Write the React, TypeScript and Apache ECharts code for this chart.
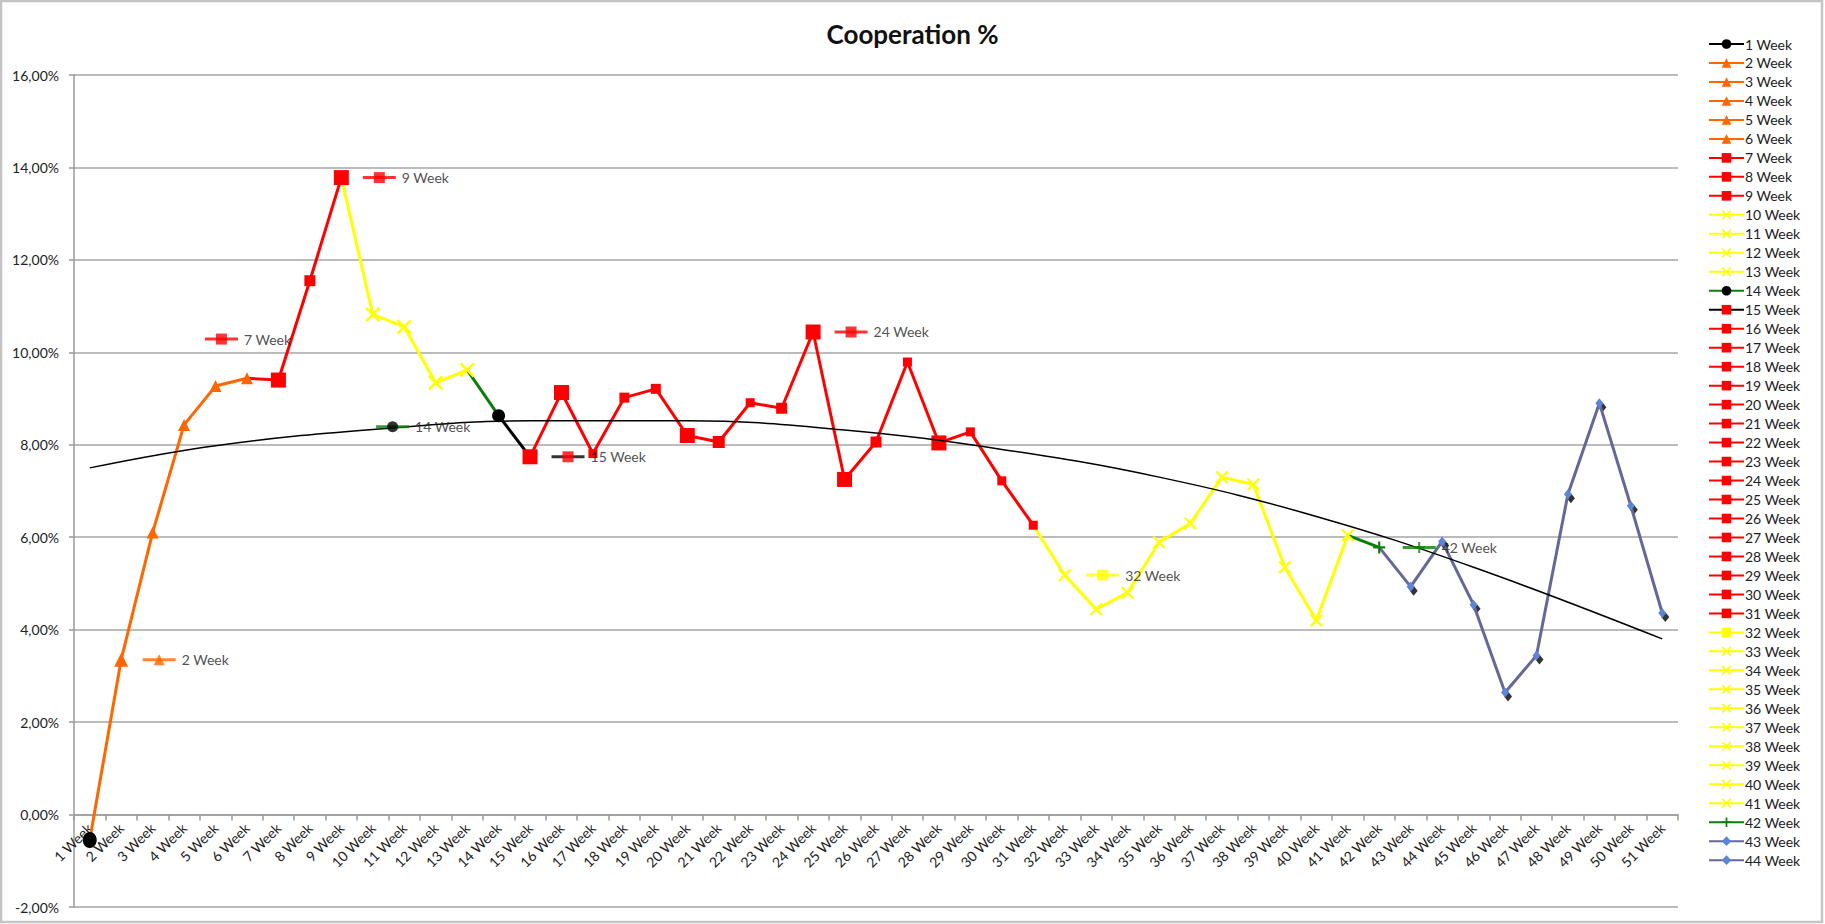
import React, { useEffect, useRef } from "react";
import * as echarts from "echarts";

const weeks = [
  "1 Week", "2 Week", "3 Week", "4 Week", "5 Week", "6 Week", "7 Week", "8 Week", "9 Week", "10 Week",
  "11 Week", "12 Week", "13 Week", "14 Week", "15 Week", "16 Week", "17 Week", "18 Week", "19 Week", "20 Week",
  "21 Week", "22 Week", "23 Week", "24 Week", "25 Week", "26 Week", "27 Week", "28 Week", "29 Week", "30 Week",
  "31 Week", "32 Week", "33 Week", "34 Week", "35 Week", "36 Week", "37 Week", "38 Week", "39 Week", "40 Week",
  "41 Week", "42 Week", "43 Week", "44 Week", "45 Week", "46 Week", "47 Week", "48 Week", "49 Week", "50 Week",
  "51 Week",
];

// Cooperation % per week
const values = [
  -0.55, 3.35, 6.1, 8.43, 9.27, 9.44, 9.4, 11.55, 13.78, 10.82,
  10.55, 9.34, 9.62, 8.63, 7.74, 9.13, 7.81, 9.02, 9.21, 8.2,
  8.06, 8.91, 8.79, 10.44, 7.25, 8.06, 9.79, 8.04, 8.28, 7.22,
  6.26, 5.18, 4.44, 4.8, 5.89, 6.3, 7.3, 7.14, 5.35, 4.2,
  6.04, 5.78, 4.93, 5.91, 4.54, 2.64, 3.44, 6.93, 8.9, 6.68,
  4.36,
];

// legend shows only the first 44 series
const legendCount = 44;

// polynomial trendline at a few weeks
const trendWeeks = ["1 Week", "5 Week", "10 Week", "15 Week", "20 Week", "25 Week", "30 Week", "35 Week", "40 Week", "45 Week", "51 Week"];
const trendValues = [7.5, 7.98, 8.33, 8.52, 8.52, 8.32, 7.9, 7.3, 6.45, 5.35, 3.8];

// series-name labels shown inside the plot (with legend key)
const keyLabels = ["2 Week", "7 Week", "9 Week", "14 Week", "15 Week", "24 Week", "32 Week", "42 Week"];

// y-axis ticks
const yMin = -2;
const yMax = 16;
const yStep = 2;

// ---- styles (kept apart from data) ----
const ORANGE = "#FF6600";
const RED = "#FF0000";
const YELLOW = "#FFFF00";
const GREEN = "#0A800A";
const BLACK = "#000000";
const PURPLE = "#666699";
const BLUE = "#5B86D6";
const X_SYM = "path://M0,1.2L1.2,0L5,3.8L8.8,0L10,1.2L6.2,5L10,8.8L8.8,10L5,6.2L1.2,10L0,8.8L3.8,5Z";
const PLUS_SYM = "path://M4.1,0H5.9V4.1H10V5.9H5.9V10H4.1V5.9H0V4.1H4.1Z";
const FONT = "Lato, 'Open Sans', sans-serif";

const GRID_TOP = 75;
const GRID_BOTTOM = 17;
const CHART_H = 924;

const markerSizes = [
  16, 14, 12, 12, 12, 12, 15, 11, 15, 15,
  15, 15, 15, 13, 15, 15, 9, 10, 10, 15,
  12, 9, 11, 15, 15, 11, 9, 15, 9, 9,
  9, 13, 13, 13, 13, 13, 13, 13, 13, 13,
  13, 12, 9, 9, 9, 9, 9, 9, 9, 9,
  9,
];

type St = { line: string; marker: string; symbol: string; pointSymbol?: string };
function styleFor(w: number): St {
  if (w === 1) return { line: BLACK, marker: BLACK, symbol: "circle" };
  if (w <= 6) return { line: ORANGE, marker: ORANGE, symbol: "triangle" };
  if (w <= 9) return { line: RED, marker: RED, symbol: "rect" };
  if (w <= 13) return { line: YELLOW, marker: YELLOW, symbol: X_SYM };
  if (w === 14) return { line: GREEN, marker: BLACK, symbol: "circle" };
  if (w === 15) return { line: BLACK, marker: RED, symbol: "rect" };
  if (w <= 31) return { line: RED, marker: RED, symbol: "rect" };
  if (w === 32) return { line: YELLOW, marker: YELLOW, symbol: "rect", pointSymbol: X_SYM };
  if (w <= 41) return { line: YELLOW, marker: YELLOW, symbol: X_SYM };
  if (w === 42) return { line: GREEN, marker: GREEN, symbol: PLUS_SYM };
  return { line: PURPLE, marker: BLUE, symbol: "diamond" };
}

const keyOffsets: Record<string, number[]> = {
  "2 Week": [38, 0],
  "7 Week": [-57, -41],
  "9 Week": [38, 0],
  "14 Week": [-106, 11],
  "15 Week": [38, 0],
  "24 Week": [38, 0],
  "32 Week": [38, 0],
  "42 Week": [40, 0],
};

export default function App() {
  const ref = useRef<HTMLDivElement>(null);
  useEffect(() => {
    if (!ref.current) return;
    const chart = echarts.init(ref.current, null, { renderer: "svg" });

    // place the category axis on the 0 line of the value axis
    const plotH = CHART_H - GRID_TOP - GRID_BOTTOM;
    const zeroOffset = -plotH * ((0 - yMin) / (yMax - yMin));

    const weekSeries: any[] = weeks.map((name, i) => {
      const st = styleFor(i + 1);
      const data: any[] = weeks.map(() => "-");
      if (i > 0) data[i - 1] = { value: values[i - 1], symbol: "none" };
      const sz = markerSizes[i];
      data[i] = {
        value: values[i],
        symbol: st.pointSymbol || st.symbol,
        symbolSize: i === 0 ? [sz - 2, sz] : st.symbol === "diamond" ? [sz - 1, sz + 1] : sz,
      };
      return {
        type: "line",
        name,
        data,
        symbol: st.symbol,
        symbolSize: 10,
        showSymbol: true,
        showAllSymbol: true,
        connectNulls: false,
        lineStyle: { color: st.line, width: 3 },
        itemStyle: { color: st.marker },
        emphasis: { disabled: true },
        silent: true,
        z: 2,
      };
    });

    const shadowData = weeks
      .map((w, i) => (styleFor(i + 1).symbol === "diamond" ? [w, values[i]] : null))
      .filter((d) => d !== null);

    const keyLineData = keyLabels.map((n) => {
      const i = weeks.indexOf(n);
      const st = styleFor(i + 1);
      return {
        name: n,
        value: [weeks[i], values[i]],
        symbolOffset: keyOffsets[n],
        itemStyle: { color: st.line },
      };
    });
    const keyMarkData = keyLabels.map((n) => {
      const i = weeks.indexOf(n);
      const st = styleFor(i + 1);
      return {
        name: n,
        value: [weeks[i], values[i]],
        symbol: st.symbol,
        symbolOffset: keyOffsets[n],
        itemStyle: { color: st.marker },
      };
    });

    const option: any = {
      animation: false,
      backgroundColor: "#ffffff",
      textStyle: { fontFamily: FONT },
      title: {
        text: "Cooperation %",
        left: "center",
        top: 21,
        padding: 0,
        textStyle: { fontFamily: FONT, fontWeight: "bold", fontSize: 26, color: "#111" },
      },
      legend: {
        data: weeks.slice(0, legendCount),
        orient: "vertical",
        left: 1708,
        top: 37,
        padding: 0,
        itemWidth: 35,
        itemHeight: 12,
        itemGap: 4.98,
        selectedMode: false,
        textStyle: { fontFamily: FONT, fontSize: 14, color: "#222", padding: [0, 0, 0, -4] },
      },
      grid: { left: 74, right: 147, top: GRID_TOP, bottom: GRID_BOTTOM, outerBoundsMode: "none", containLabel: false },
      xAxis: {
        type: "category",
        data: weeks,
        boundaryGap: true,
        position: "bottom",
        offset: zeroOffset,
        axisLine: { show: true, onZero: false, lineStyle: { color: "#9a9a9a", width: 1.5 } },
        axisTick: { show: true, length: 6, lineStyle: { color: "#9a9a9a", width: 1.5 } },
        axisLabel: {
          interval: 0,
          rotate: 45,
          margin: 11,
          fontSize: 14,
          fontFamily: FONT,
          color: "#222",
        },
        splitLine: { show: false },
      },
      yAxis: {
        type: "value",
        min: yMin,
        max: yMax,
        interval: yStep,
        axisLine: { show: true, onZero: false, lineStyle: { color: "#9a9a9a", width: 1.5 } },
        axisTick: { show: true, length: 5, lineStyle: { color: "#9a9a9a", width: 1.5 } },
        axisLabel: {
          margin: 15,
          fontSize: 14,
          fontFamily: FONT,
          color: "#222",
          formatter: (v: number) => v.toFixed(2).replace(".", ",") + "%",
        },
        splitLine: { show: true, lineStyle: { color: "#a6a6a6", width: 1.5 } },
      },
      graphic: [
        {
          type: "rect",
          shape: { x: 1, y: 1, width: 1821, height: 921 },
          style: { fill: "none", stroke: "#c4c4c4", lineWidth: 2.5 },
          silent: true,
          z: 100,
        },
      ],
      series: [
        {
          type: "scatter",
          name: "shadow",
          data: shadowData,
          symbol: "diamond",
          symbolSize: [8, 10],
          symbolOffset: [3, 4],
          itemStyle: { color: "#000" },
          silent: true,
          z: 1,
        },
        ...weekSeries,
        {
          type: "line",
          name: "trend",
          data: trendWeeks.map((w, i) => [w, trendValues[i]]),
          smooth: 0.4,
          symbol: "none",
          lineStyle: { color: "#000", width: 1.5 },
          silent: true,
          z: 3,
        },
        {
          type: "scatter",
          name: "keyLine",
          data: keyLineData,
          symbol: "rect",
          symbolSize: [33, 3],
          silent: true,
          z: 4,
          label: {
            show: true,
            position: "right",
            distance: 6,
            formatter: "{b}",
            fontFamily: FONT,
            fontSize: 14,
            color: "#222",
          },
        },
        {
          type: "scatter",
          name: "keyMark",
          data: keyMarkData,
          symbolSize: 11,
          silent: true,
          z: 5,
        },
      ],
    };
    chart.setOption(option);
    return () => chart.dispose();
  }, []);

  return (
    <div
      ref={ref}
      style={{ position: "fixed", left: 0, top: 0, width: 1825, height: 924, background: "#fff" }}
    />
  );
}
